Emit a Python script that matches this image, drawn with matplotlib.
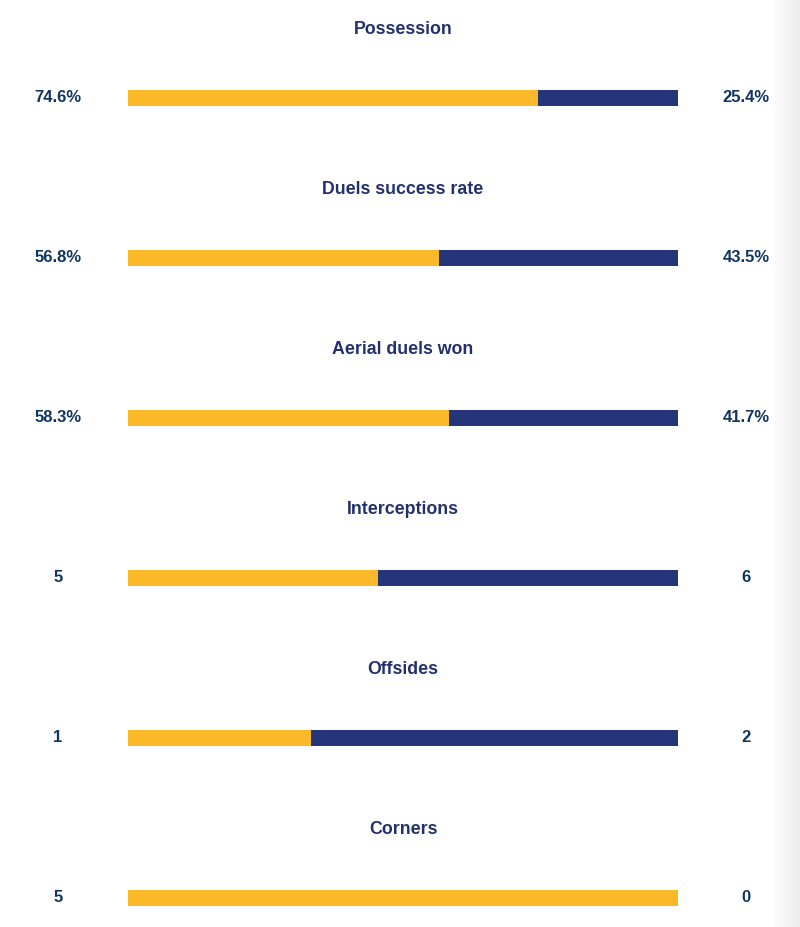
import numpy as np
import matplotlib.pyplot as plt

# match stats: home (yellow) vs away (navy)
stats = ['Possession', 'Duels success rate', 'Aerial duels won',
         'Interceptions', 'Offsides', 'Corners']
home = [74.6, 56.8, 58.3, 5, 1, 5]
away = [25.4, 43.5, 41.7, 6, 2, 0]
home_labels = ['74.6%', '56.8%', '58.3%', '5', '1', '5']
away_labels = ['25.4%', '43.5%', '41.7%', '6', '2', '0']

YELLOW = '#fbb829'
NAVY = '#263479'
TITLE_C = '#23306e'
VALUE_C = '#0f3562'

W, H = 800, 927
fig = plt.figure(figsize=(W / 100, H / 100), dpi=100)
ax = fig.add_axes([0, 0, 1, 1])

# x: 0..1 is the bar span (pixels 128..678); y: one row per stat (160 px)
x0, span = 128, 550
ax.set_xlim(-x0 / span, (W - x0) / span)
y0, row = 97.5, 160
ax.set_ylim((H - y0) / row, -y0 / row)
ax.axis('off')

h = np.array(home, float)
a = np.array(away, float)
frac = h / (h + a)
ypos = np.arange(len(stats))

ax.barh(ypos, frac, height=0.1, left=0, color=YELLOW, edgecolor='none')
ax.barh(ypos, 1 - frac, height=0.1, left=frac, color=NAVY, edgecolor='none')

for i, name in enumerate(stats):
    ax.text(0.5, i - 68 / row, name, ha='center', va='center',
            fontsize=12.8, fontweight='bold', color=TITLE_C,
            family='Liberation Sans')
    ax.text((58 - x0) / span, i, home_labels[i], ha='center', va='center',
            fontsize=12, fontweight='bold', color=VALUE_C,
            family='Liberation Sans')
    ax.text((746 - x0) / span, i, away_labels[i], ha='center', va='center',
            fontsize=12, fontweight='bold', color=VALUE_C,
            family='Liberation Sans')

# faint grey shade at the right edge
sw = 30
grad = np.linspace(1.0, 0.93, sw).reshape(1, -1)
fig.figimage(np.repeat(grad, H, axis=0)[..., None].repeat(3, axis=2),
             xo=W - sw, yo=0, zorder=-1)
ax.patch.set_alpha(0)

fig.savefig('out.png', dpi=100)
